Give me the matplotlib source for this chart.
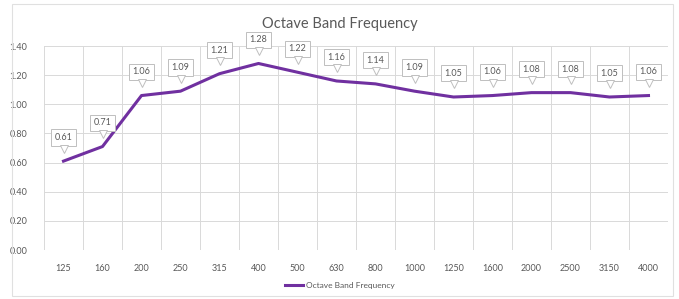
import matplotlib.pyplot as plt
import matplotlib.transforms as mtransforms
from matplotlib.patches import Rectangle

# octave band centre frequencies (Hz) and measured values
bands = ['125', '160', '200', '250', '315', '400', '500', '630',
         '800', '1000', '1250', '1600', '2000', '2500', '3150', '4000']
values = [0.61, 0.71, 1.06, 1.09, 1.21, 1.28, 1.22, 1.16,
          1.14, 1.09, 1.05, 1.06, 1.08, 1.08, 1.05, 1.06]
yticks = [0.0, 0.2, 0.4, 0.6, 0.8, 1.0, 1.2, 1.4]

plt.rcParams['font.family'] = ['Lato', 'DejaVu Sans']
txt = '#595959'
grid = '#D9D9D9'
purple = '#7030A0'

fig = plt.figure(figsize=(6.79, 2.99), dpi=100)
fig.patches.append(Rectangle((12 / 679, 3 / 299), 661 / 679, 292 / 299,
                             transform=fig.transFigure, fill=False,
                             edgecolor='#E0E0E0', lw=0.8))
ax = fig.add_axes([44 / 679, 49 / 299, 624 / 679, 204 / 299])

x = list(range(len(bands)))
ax.plot(x, values, color=purple, lw=2.2, label='Octave Band Frequency', zorder=3)

ax.set_xlim(-0.5, len(bands) - 0.5)
ax.set_ylim(0, 1.4)
ax.set_yticks(yticks)
ax.set_yticklabels(['%.2f' % v for v in yticks], fontsize=6.5, color=txt)
ax.set_xticks(x)
ax.set_xticklabels(bands, fontsize=6.5, color=txt)
ax.tick_params(length=0, pad=10, axis='x')
ax.tick_params(length=0, pad=12, axis='y')
for v in yticks:
    ax.axhline(v, color=grid, lw=0.7, zorder=0)
for i in range(len(bands) + 1):
    ax.axvline(i - 0.5, color=grid, lw=0.7, zorder=0)
for s in ax.spines.values():
    s.set_visible(False)

# callout-style data labels
for xi, v in zip(x, values):
    ax.annotate('%.2f' % v, (xi, v), xytext=(0, 17), textcoords='offset points',
                ha='center', va='center', fontsize=6.5, color=txt,
                bbox=dict(boxstyle='square,pad=0.4', fc='white', ec='#BFBFBF', lw=0.7),
                zorder=5)
    tr = mtransforms.offset_copy(ax.transData, fig=fig, x=0, y=9, units='points')
    ax.plot(xi, v, marker='v', ms=6, mfc='white', mec='#BFBFBF', mew=0.7,
            transform=tr, zorder=6, clip_on=False)

fig.text(0.5, 0.92, 'Octave Band Frequency', ha='center', va='center',
         fontsize=10.5, color=txt)
fig.legend(loc='center', bbox_to_anchor=(0.5, 0.045), frameon=False,
           fontsize=6, labelcolor=txt, handlelength=2.2, handletextpad=0.3)

fig.savefig('out.png', dpi=100, facecolor='white')
